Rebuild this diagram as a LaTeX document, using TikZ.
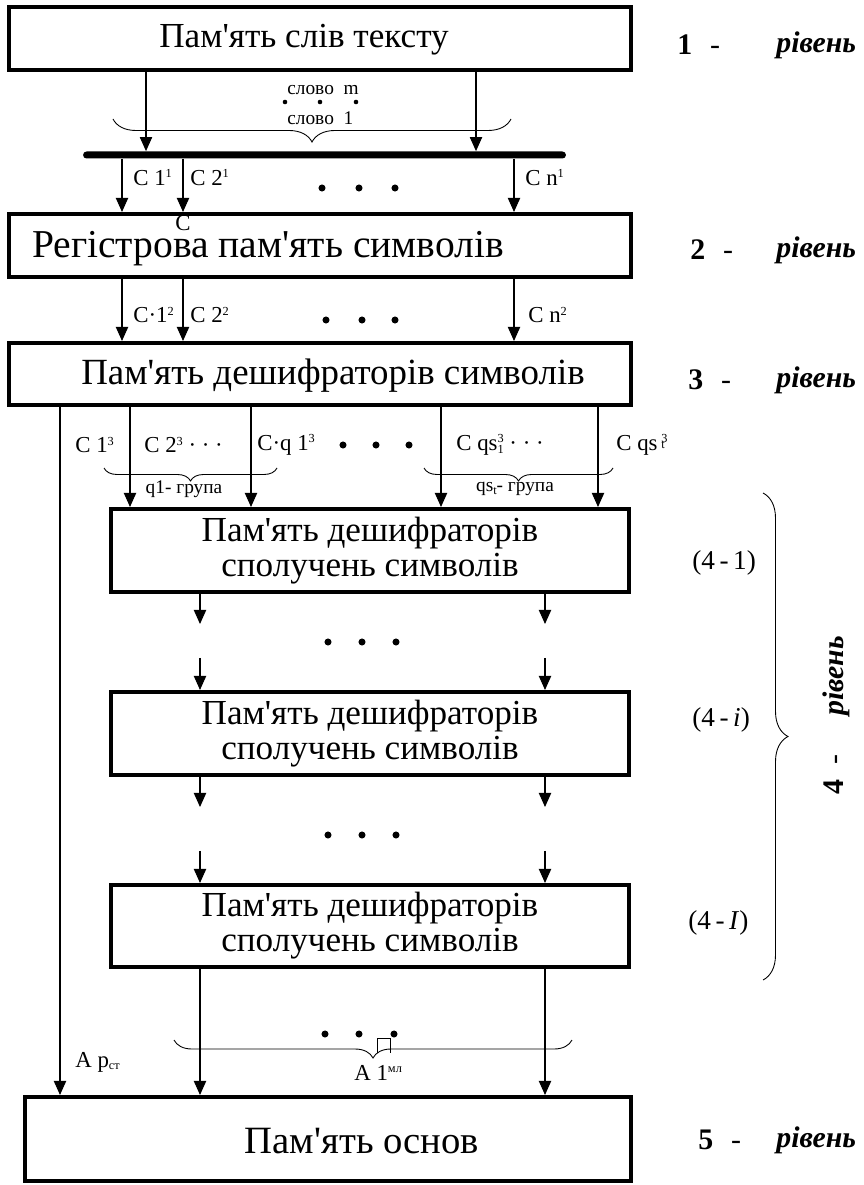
\documentclass[tikz,border=0pt]{standalone}
\usepackage{fontspec}
\setmainfont{Liberation Serif}
\usetikzlibrary{arrows.meta,calc,decorations.pathreplacing}

\newcommand{\ap}{\textquotesingle}
\newcommand{\upx}[1]{\raisebox{4.5pt}{\fontsize{7}{7}\selectfont #1}}
\newcommand{\dnx}[1]{\raisebox{-1.5pt}{\fontsize{7}{7}\selectfont #1}}

\begin{document}
\begin{tikzpicture}[
  x=0.02cm, y=-0.02cm,
  every node/.style = {inner sep=0pt},
  blk/.style    = {draw, line width=2.3pt, minimum width=12.44cm, minimum height=1.26cm},
  blktxt/.style = {font=\fontsize{20}{22}\selectfont},
  arr/.style    = {-{Triangle[width=7pt,length=8pt]}, line width=0.6pt},
  lab/.style    = {anchor=west, font=\fontsize{13}{15}\selectfont},
  small/.style  = {font=\fontsize{11}{13}\selectfont},
  lvnum/.style  = {anchor=west, font=\fontsize{17}{19}\selectfont},
  lvword/.style = {anchor=west, font=\fontsize{17}{19}\selectfont\bfseries\itshape},
  brc/.style    = {decorate, decoration={brace, amplitude=#1}, line width=0.5pt},
]

\useasboundingbox (0,0) rectangle (863,1185);

%% ── Column positions (px of the sheet) ───────────────────────────────────────
\coordinate (w1) at (146,0);  \coordinate (w2) at (476,0);   % words
\coordinate (c1) at (122,0);  \coordinate (c2) at (183,0);   % symbols
\coordinate (cn) at (514,0);
\coordinate (d0) at (60,0);   \coordinate (d1) at (130,0);   % decoders
\coordinate (d2) at (251,0);  \coordinate (d3) at (441,0);
\coordinate (d4) at (598,0);
\coordinate (e1) at (200,0);  \coordinate (e2) at (545,0);   % combinations

%% ── Level 1: memory of words ─────────────────────────────────────────────────
\node[blk] (words) at (320,38.5) {};
\node[blktxt] (twords) at (304,40) {Пам\ap ять слів тексту};

\node[fill, minimum width=9.66cm, minimum height=0.14cm, rounded corners=0.07cm]
  (bus) at (324.5,155) {};

\foreach \k in {w1,w2}
  \draw[arr] (words.south -| \k) -- (bus.north -| \k);

\node[small, anchor=west] (wm) at (287,90) {слово\ \ m};
\foreach \x in {285,320,356}
  \fill (\x,102) circle (1.3pt);
\node[small, anchor=west] (w1t) at (287,118) {слово\ \ 1};
\draw[brc=0.46cm] (511,119) -- (113,119);

%% ── Level 2: register memory ─────────────────────────────────────────────────
\node[blk] (reg) at (320,245.5) {};
\node[blktxt, font=\fontsize{22.5}{25}\selectfont] (treg) at (268,249)
  {Регістрова пам\ap ять символів};
\node[lab] (cart) at (175,223) {C};

\foreach \k in {c1,c2,cn}
  \draw[arr] (bus.south -| \k) -- (reg.north -| \k);

\node[lab] (s11) at (133,178) {C 1\upx{1}};
\node[lab] (s21) at (190,178) {C 2\upx{1}};
\node[lab] (sn1) at (525,178) {C n\upx{1}};
\foreach \x in {322,359,395}
  \fill (\x,188) circle (2pt);

%% ── Level 3: decoders of symbols ─────────────────────────────────────────────
\node[blk, minimum height=1.24cm] (dec) at (320,374) {};
\node[blktxt, font=\fontsize{21}{24}\selectfont] (tdec) at (333,376)
  {Пам\ap ять дешифраторів символів};

\foreach \k in {c1,c2,cn}
  \draw[arr] (reg.south -| \k) -- (dec.north -| \k);

\node[lab] (s12) at (133,315) {C·1\upx{2}};
\node[lab] (s22) at (190,315) {C 2\upx{2}};
\node[lab] (sn2) at (528,315) {C n\upx{2}};
\foreach \x in {326,362,395}
  \fill (\x,320) circle (2pt);

%% ── Level 4: decoders of combinations ────────────────────────────────────────
\node[blk, minimum width=10.36cm, minimum height=1.66cm, align=center,
      font=\fontsize{20}{20}\selectfont] (comb1) at (370,550.5)
  {Пам\ap ять дешифраторів\\сполучень символів};
\node[blk, minimum width=10.36cm, minimum height=1.66cm, align=center,
      font=\fontsize{20}{20}\selectfont] (combi) at (370,733.5)
  {Пам\ap ять дешифраторів\\сполучень символів};
\node[blk, minimum width=10.36cm, minimum height=1.64cm, align=center,
      font=\fontsize{20}{20}\selectfont] (combl) at (370,926)
  {Пам\ap ять дешифраторів\\сполучень символів};

\foreach \k in {d1,d2,d3,d4}
  \draw[arr] (dec.south -| \k) -- (comb1.north -| \k);

\node[lab] (s13) at (75,445)  {C 1\upx{3}};
\node[lab] (s23) at (144,445) {C 2\upx{3} · · ·};
\node[lab] (sq3) at (257,445) {C·q 1\upx{3}};
\node[lab] (sqs) at (456,445)
  {C qs\rlap{\upx{3}}\dnx{1} · · ·};
\node[lab] (sqt) at (616,445)
  {C qs\,\rlap{\upx{3}}\raisebox{1pt}{\fontsize{7}{7}\selectfont t}};
\foreach \x in {343,376,409}
  \fill (\x,445) circle (2pt);

\draw[brc=0.26cm] (277,468) -- (104,468);
\node[small] (gq1) at (184,489) {q1- група};
\draw[brc=0.26cm] (613,468) -- (424,468);
\node[small] (gqs) at (515,489) {qs\dnx{t}- група};

% between the combination stages
\foreach \k in {e1,e2}{
  \draw[arr] (comb1.south -| \k) -- ++(0,30);
  \draw[arr] ($(combi.north -| \k)+(0,-32)$) -- (combi.north -| \k);
  \draw[arr] (combi.south -| \k) -- ++(0,30);
  \draw[arr] ($(combl.north -| \k)+(0,-32)$) -- (combl.north -| \k);
}
\foreach \y in {642,835}
  \foreach \x in {328,362,396}
    \fill (\x,\y) circle (2pt);

\node[lvnum, font=\fontsize{15.5}{17}\selectfont] (n41) at (692,563) {(4\,-\,1)};
\node[lvnum, font=\fontsize{15.5}{17}\selectfont] (n4i) at (692,720) {(4\,-\,\textit{i})};
\node[lvnum, font=\fontsize{15.5}{17}\selectfont] (n4l) at (688,923) {(4\,-\,\textit{I})};

\draw[brc=0.5cm] (763,493) -- (763,980);
\node[lvword, rotate=90, anchor=center] (lvl4) at (836,715)
  {\textbf{\upshape 4}\hspace{0.5em}\mdseries\upshape -\hspace{1.3em}\bfseries\itshape рівень};

%% ── Level 5: memory of stems ─────────────────────────────────────────────────
\node[blk, minimum width=12.12cm, minimum height=1.68cm] (base) at (328,1139) {};
\node[blktxt, font=\fontsize{22}{24}\selectfont] (tbase) at (362,1141)
  {Пам\ap ять основ};

\draw[arr] (dec.south -| d0) -- (base.north -| d0);
\foreach \k in {e1,e2}
  \draw[arr] (combl.south -| \k) -- (base.north -| \k);

\foreach \x in {325,359,394}
  \fill (\x,1034) circle (2pt);
\draw[brc=0.36cm] (572,1040) -- (174,1040);
\draw[line width=0.5pt] (377,1053) |- (390,1038) -- (390,1053);
\node[lab] (ap) at (75,1062) {A p\dnx{ст}};
\node[lab] (a1) at (354,1073) {A 1\upx{мл}};

%% ── Level captions ───────────────────────────────────────────────────────────
\foreach \n/\xn/\y in {1/677/45, 2/690/250, 3/688/380, 5/698/1140}{
  \node[lvnum] (num\n) at (\xn,\y) {\textbf{\n}\hspace{0.6em}-};
  \node[lvword] (lvl\n) at (776,\y) {рівень};
}

\end{tikzpicture}
\end{document}
